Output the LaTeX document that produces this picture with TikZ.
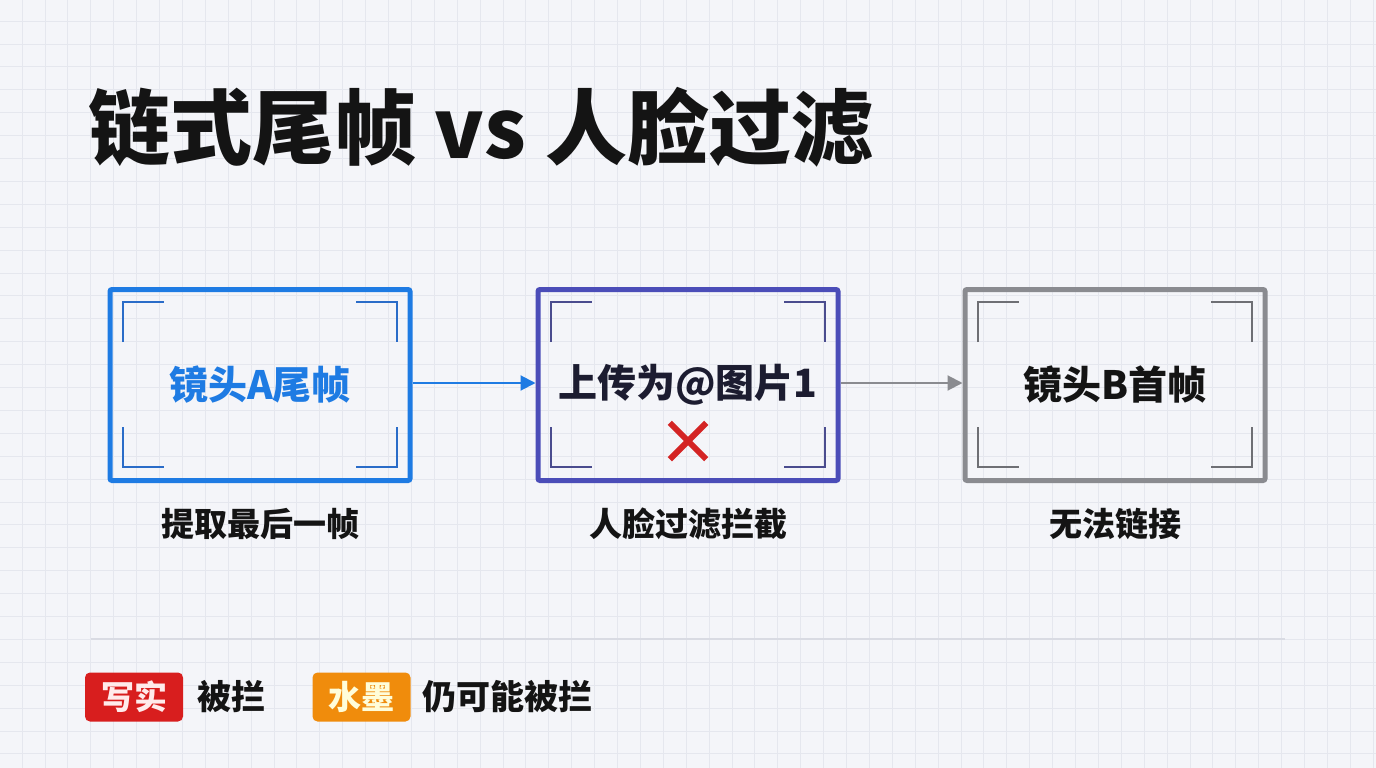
\documentclass[tikz,border=0pt]{standalone}
\usepackage{fontspec}
\setmainfont{Noto Sans CJK SC}[BoldFont={Noto Sans CJK SC Bold}]
\newfontfamily\cjkblack{Noto Sans CJK SC Black}
\usetikzlibrary{arrows.meta}
\definecolor{bg}{HTML}{F4F5F9}
\definecolor{gridc}{HTML}{E5E7EE}
\definecolor{blueA}{HTML}{1E7BE3}
\definecolor{blueBr}{HTML}{2A6CC8}
\definecolor{indigoB}{HTML}{4B4DB8}
\definecolor{indigoBr}{HTML}{4A4C8E}
\definecolor{grayC}{HTML}{8A8B90}
\definecolor{grayBr}{HTML}{6E6F74}
\definecolor{ink}{HTML}{141414}
\definecolor{navy}{HTML}{1C1C30}
\definecolor{redx}{HTML}{D42424}
\definecolor{redbadge}{HTML}{D81E1E}
\definecolor{orangebadge}{HTML}{F08C0C}
\definecolor{sepc}{HTML}{D9DBE3}
\tikzset{
  framebox/.style={draw, line width=5pt, rounded corners=2pt, minimum width=300pt, minimum height=191pt, inner sep=0pt},
  bracket/.style={line width=2pt},
  boxlabel/.style={font=\cjkblack\fontsize{39}{39}\selectfont},
  caption/.style={font=\cjkblack\fontsize{33}{33}\selectfont, text=ink},
  badge/.style={rounded corners=5pt, minimum width=98pt, minimum height=49pt, inner sep=0pt, font=\cjkblack\fontsize{33}{33}\selectfont},
  legendtext/.style={font=\cjkblack\fontsize{34}{34}\selectfont, text=ink, anchor=west, inner sep=0pt},
  flowarrow/.style={line width=2pt, -{Triangle[length=15pt,width=15pt]}}
}
\newcommand{\corners}[3]{% center x, center y, color
  \draw[bracket,#3] (#1-137,#2-43) -- (#1-137,#2-83) -- (#1-96,#2-83);
  \draw[bracket,#3] (#1+96,#2-83) -- (#1+137,#2-83) -- (#1+137,#2-43);
  \draw[bracket,#3] (#1-137,#2+42) -- (#1-137,#2+82) -- (#1-96,#2+82);
  \draw[bracket,#3] (#1+96,#2+82) -- (#1+137,#2+82) -- (#1+137,#2+42);
}
\begin{document}
\begin{tikzpicture}[x=1pt,y=-1pt]
\useasboundingbox (0,0) rectangle (1376,768);
\fill[bg] (0,0) rectangle (1376,768);
\foreach \i in {0,...,59} {
  \draw[gridc, line width=0.7pt] ({22+22.9*\i},0) -- ({22+22.9*\i},768);
}
\foreach \j in {0,...,33} {
  \draw[gridc, line width=0.7pt] (0,{21+22.9*\j}) -- (1376,{21+22.9*\j});
}
% title
\node[anchor=west, inner sep=0pt, text=ink, font=\cjkblack\fontsize{82}{82}\selectfont] (title) at (88,127) {链式尾帧 vs 人脸过滤};
% boxes
\node[framebox, draw=blueA] (boxA) at (260,385) {};
\node[framebox, draw=indigoB] (boxB) at (688,385) {};
\node[framebox, draw=grayC] (boxC) at (1115,385) {};
\corners{260}{385}{blueBr}
\corners{688}{385}{indigoBr}
\corners{1115}{385}{grayBr}
\node[boxlabel, text=blueA] (labA) at (260,385) {镜头A尾帧};
\node[boxlabel, text=navy] (labB) at (688,385) {上传为@图片1};
\node[boxlabel, text=ink] (labC) at (1115,385) {镜头B首帧};
% red cross
\node[minimum size=36pt, inner sep=0pt] (cross) at (688,441) {};
\draw[redx, line width=6pt] (cross.north west) -- (cross.south east);
\draw[redx, line width=6pt] (cross.north east) -- (cross.south west);
% arrows
\draw[flowarrow, blueA] (boxA.east |- 0,383) -- (boxB.west |- 0,383);
\draw[flowarrow, grayC] (boxB.east |- 0,383) -- (boxC.west |- 0,383);
% captions
\node[caption] (capA) at (260,524) {提取最后一帧};
\node[caption] (capB) at (688,524) {人脸过滤拦截};
\node[caption] (capC) at (1115,524) {无法链接};
% separator
\coordinate (sepL) at (91,639);
\coordinate (sepR) at (1285,639);
\draw[sepc, line width=1.2pt] (sepL) -- (sepR);
% legend
\node[badge, fill=redbadge, text={white!92!red}] (b1) at (134,697) {写实};
\node[legendtext] (t1) at (197,697) {被拦};
\node[badge, fill=orangebadge, text={yellow!15!white}] (b2) at (361.5,697) {水墨};
\node[legendtext] (t2) at (422,697) {仍可能被拦};
\end{tikzpicture}
\end{document}
